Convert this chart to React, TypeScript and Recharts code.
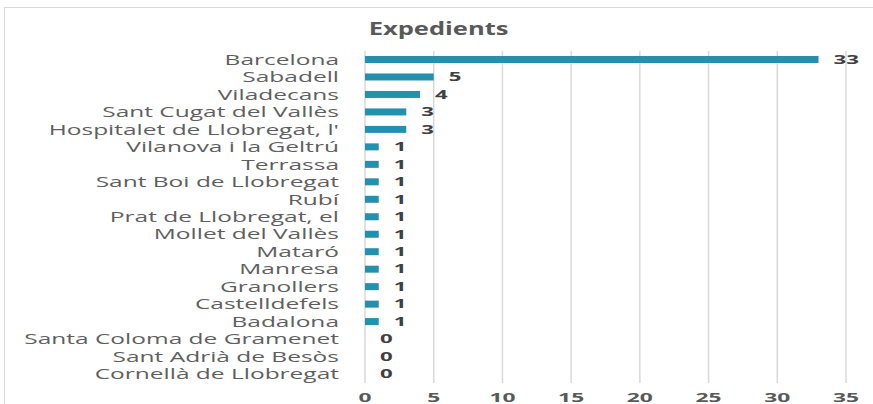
import React from 'react';
import { BarChart, Bar, XAxis, YAxis, CartesianGrid } from 'recharts';

const categories = [
  'Barcelona',
  'Sabadell',
  'Viladecans',
  'Sant Cugat del Vallès',
  "Hospitalet de Llobregat, l'",
  'Vilanova i la Geltrú',
  'Terrassa',
  'Sant Boi de Llobregat',
  'Rubí',
  'Prat de Llobregat, el',
  'Mollet del Vallès',
  'Mataró',
  'Manresa',
  'Granollers',
  'Castelldefels',
  'Badalona',
  'Santa Coloma de Gramenet',
  'Sant Adrià de Besòs',
  'Cornellà de Llobregat',
];
const values = [33, 5, 4, 3, 3, 1, 1, 1, 1, 1, 1, 1, 1, 1, 1, 1, 0, 0, 0];
const xTicks = [0, 5, 10, 15, 20, 25, 30, 35];
const title = 'Expedients';

const data = categories.map((name, i) => ({ name, value: values[i] }));

const FONT = '"Open Sans", sans-serif';

const YTick = (props: any) => {
  const { x, y, payload } = props;
  return (
    <text
      transform={`translate(${x} ${y}) scale(1.75 1)`}
      x={0}
      y={0}
      dy="0.355em"
      textAnchor="end"
      fontFamily={FONT}
      fontSize={14}
      fill="#5f5f5f"
    >
      {payload.value}
    </text>
  );
};

const XTick = (props: any) => {
  const { x, y, payload } = props;
  return (
    <text
      transform={`translate(${x} ${y}) scale(1.9 1)`}
      x={0}
      y={0}
      dy="0.71em"
      textAnchor="middle"
      fontFamily={FONT}
      fontSize={12}
      fontWeight="bold"
      fill="#595959"
    >
      {payload.value}
    </text>
  );
};

const BarWithLabel = (props: any) => {
  const { x, y, width, height, fill, value } = props;
  const v = Array.isArray(value) ? value[1] - value[0] : value;
  const w = Math.max(0, width || 0);
  const tx = x + w + 15;
  const ty = y + height / 2;
  return (
    <g>
      {w > 0 && <rect x={x} y={y} width={w} height={height} fill={fill} />}
      <text
        transform={`translate(${tx} ${ty}) scale(1.85 1)`}
        x={0}
        y={0}
        dy="0.355em"
        textAnchor="start"
        fontFamily={FONT}
        fontSize={12}
        fontWeight="bold"
        fill="#404040"
      >
        {v}
      </text>
    </g>
  );
};

export default function App() {
  return (
    <div style={{ position: 'absolute', left: 0, top: 0, width: 873, height: 404, background: '#fff', overflow: 'hidden' }}>
      <div
        style={{
          position: 'absolute',
          left: 4,
          top: 7,
          width: 900,
          height: 420,
          borderLeft: '1.5px solid #d9d9d9',
          borderTop: '1.5px solid #d9d9d9',
        }}
      />
      <div
        style={{
          position: 'absolute',
          left: 0,
          top: 17,
          width: 873,
          textAlign: 'center',
          fontFamily: FONT,
          fontWeight: 'bold',
          fontSize: 17,
          color: '#595959',
        }}
      >
        <span style={{ display: 'inline-block', transform: 'scale(1.5, 1)', marginLeft: 4 }}>{title}</span>
      </div>
      <div style={{ position: 'absolute', left: 0, top: 0 }}>
        <BarChart
          width={873}
          height={404}
          data={data}
          layout="vertical"
          margin={{ top: 51, right: 27, bottom: 0, left: 0 }}
          barSize={7}
        >
          <CartesianGrid horizontal={false} vertical={true} stroke="#d9d9d9" strokeWidth={1.5} />
          <XAxis
            type="number"
            domain={[0, 35]}
            ticks={xTicks}
            axisLine={false}
            tickLine={false}
            tickSize={0}
            tickMargin={10}
            height={21}
            tick={<XTick />}
            interval={0}
          />
          <YAxis
            type="category"
            dataKey="name"
            width={365}
            axisLine={false}
            tickLine={false}
            tickSize={0}
            tickMargin={26}
            tick={<YTick />}
            interval={0}
          />
          <Bar dataKey="value" fill="#2390ad" isAnimationActive={false} shape={<BarWithLabel />} />
        </BarChart>
      </div>
    </div>
  );
}
